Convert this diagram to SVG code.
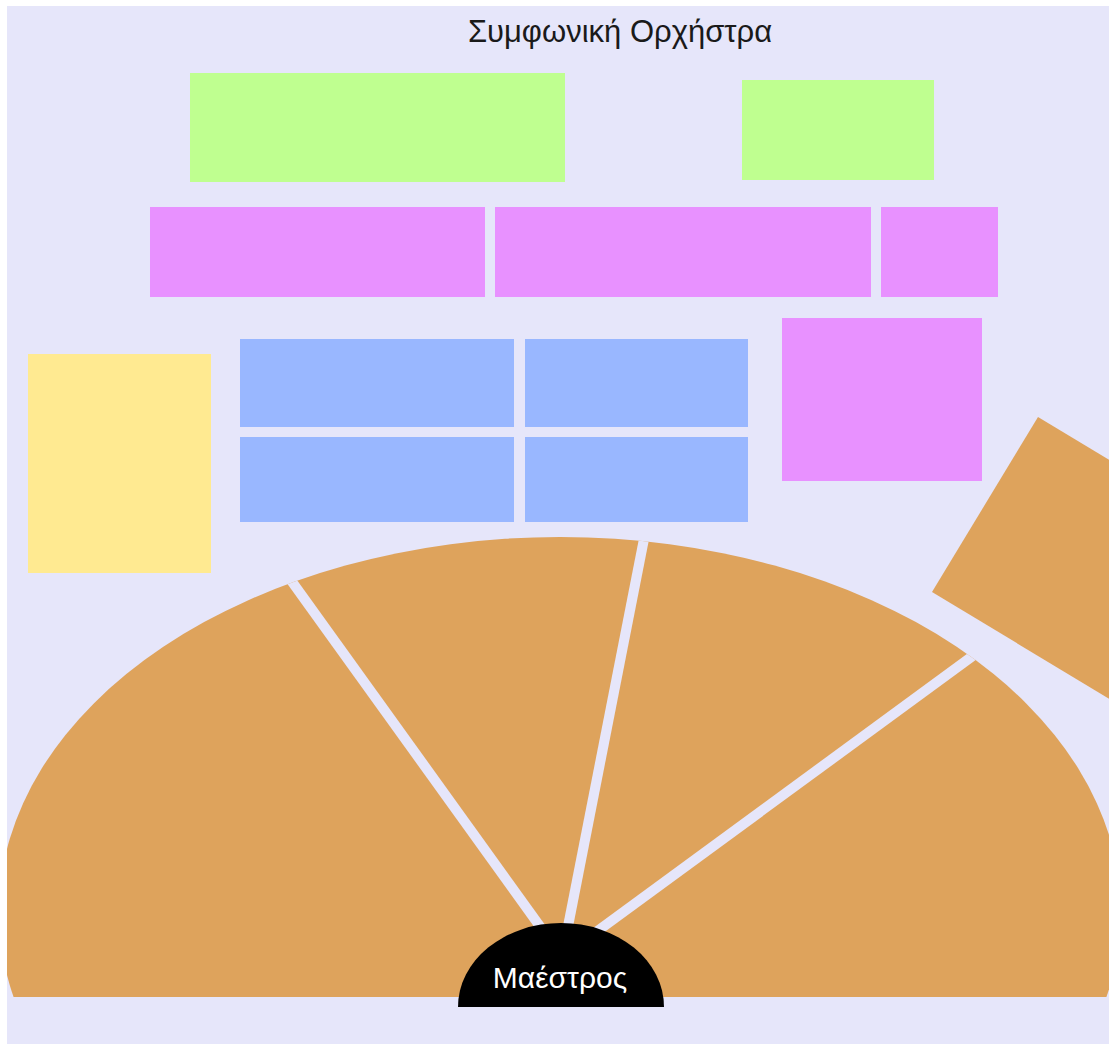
<svg xmlns="http://www.w3.org/2000/svg" width="1109" height="1044" viewBox="0 0 1109 1044">
  <defs>
    <style>
      .green { fill: #BFFF90; }
      .violet { fill: #E891FF; }
      .blue { fill: #99B7FF; }
      .yellow { fill: #FFEA91; }
      .brass { fill: #DEA35C; }
      .sep { stroke: #E6E6FA; stroke-width: 10; fill: none; }
      .title { font-family: "Liberation Sans", Arial, sans-serif; font-size: 31px; fill: #1a1a1a; text-anchor: middle; }
      .label { font-family: "Liberation Sans", Arial, sans-serif; font-size: 30px; fill: #ffffff; text-anchor: middle; }
    </style>
    <clipPath id="stage">
      <rect x="7" y="6" width="1102" height="991"/>
    </clipPath>
    <clipPath id="fanClip">
      <ellipse cx="560" cy="912" rx="561" ry="375"/>
    </clipPath>
  </defs>

  <rect x="7" y="6" width="1102" height="1038" fill="#E6E6FA"/>

  <g id="title">
    <text class="title" x="620" y="42">Συμφωνική Ορχήστρα</text>
  </g>

  <g id="green-1"><rect class="green" x="190" y="73" width="375" height="109"/></g>
  <g id="green-2"><rect class="green" x="742" y="80" width="192" height="100"/></g>

  <g id="violet-1"><rect class="violet" x="150" y="207" width="335" height="90"/></g>
  <g id="violet-2"><rect class="violet" x="495" y="207" width="376" height="90"/></g>
  <g id="violet-3"><rect class="violet" x="881" y="207" width="117" height="90"/></g>
  <g id="violet-4"><rect class="violet" x="782" y="318" width="200" height="163"/></g>

  <g id="blue-1"><rect class="blue" x="240" y="339" width="274" height="88"/></g>
  <g id="blue-2"><rect class="blue" x="525" y="339" width="223" height="88"/></g>
  <g id="blue-3"><rect class="blue" x="240" y="437" width="274" height="85"/></g>
  <g id="blue-4"><rect class="blue" x="525" y="437" width="223" height="85"/></g>

  <g id="yellow"><rect class="yellow" x="28" y="354" width="183" height="219"/></g>

  <g id="brass-rotated">
    <polygon class="brass" points="1038,417 1252,546 1146,721 932,592"/>
  </g>

  <g id="fan" clip-path="url(#stage)">
    <ellipse class="brass" cx="560" cy="912" rx="561" ry="375"/>
  </g>

  <g id="connectors" clip-path="url(#fanClip)">
    <line class="sep" x1="562" y1="957" x2="262" y2="540"/>
    <line class="sep" x1="562" y1="957" x2="654" y2="488"/>
    <line class="sep" x1="562" y1="957" x2="1030" y2="614"/>
  </g>

  <g id="maestro">
    <path d="M458,1007 A103,84 0 0 1 664,1007 Z" fill="#000000"/>
    <text class="label" x="560" y="988">Μαέστρος</text>
  </g>
</svg>
